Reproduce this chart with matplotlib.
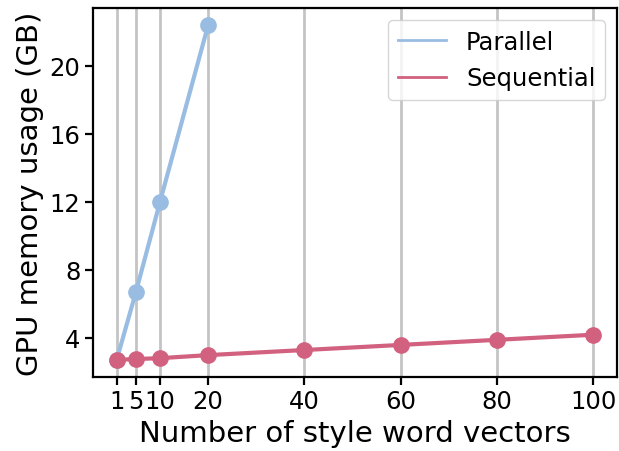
import matplotlib
matplotlib.use("Agg")
import matplotlib.pyplot as plt
from matplotlib.lines import Line2D

# data
n_vectors = [1, 5, 10, 20, 40, 60, 80, 100]
parallel_x = [1, 5, 10, 20]
parallel_mem = [2.7, 6.7, 12.0, 22.4]
sequential_mem = [2.7, 2.75, 2.8, 2.98, 3.28, 3.58, 3.88, 4.18]

blue = '#99bce2'
pink = '#d2607f'

fig, ax = plt.subplots(figsize=(6.19, 4.52), dpi=100)

ax.plot(parallel_x, parallel_mem, color=blue, lw=3, marker='o', ms=11)
ax.plot(n_vectors, sequential_mem, color=pink, lw=3, marker='o', ms=11)

ax.set_xticks(n_vectors)
ax.set_yticks([4, 8, 12, 16, 20])
ax.set_ylim(1.7, 23.4)
ax.grid(axis='x', color='#c4c4c4', lw=2)
ax.set_axisbelow(True)

for s in ax.spines.values():
    s.set_linewidth(1.6)
ax.tick_params(labelsize=17.5, width=1.6, length=5.5)

ax.set_xlabel("Number of style word vectors", fontsize=21)
ax.set_ylabel("GPU memory usage (GB)", fontsize=21)

handles = [Line2D([], [], color=blue, lw=2), Line2D([], [], color=pink, lw=2)]
ax.legend(handles, ["Parallel", "Sequential"], loc='upper right', fontsize=17.5)

plt.subplots_adjust(left=0.150, right=0.997, top=0.980, bottom=0.164)
plt.savefig("out.png")
